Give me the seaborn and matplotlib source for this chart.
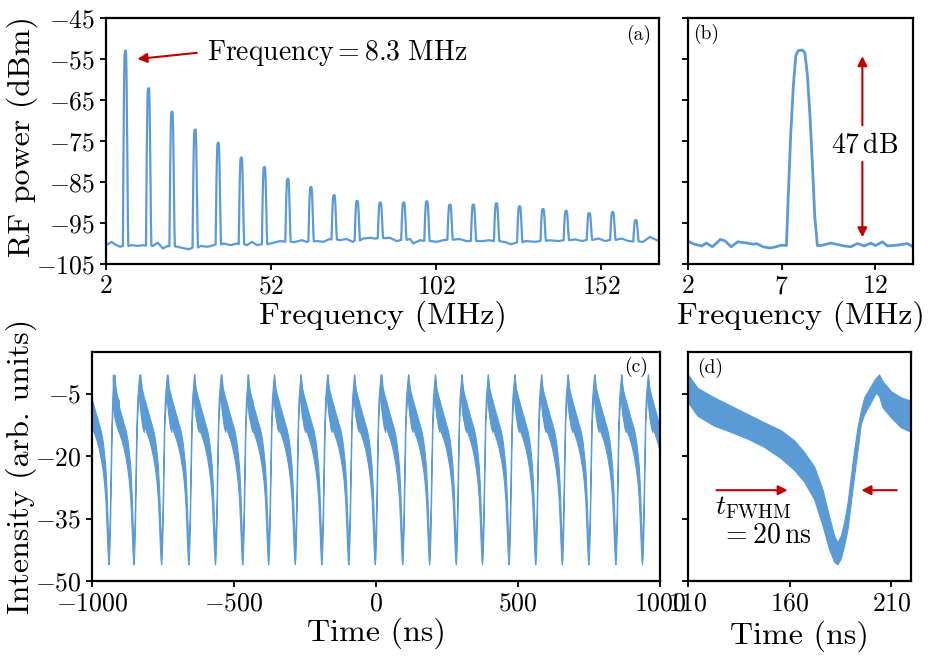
import numpy as np
import pandas as pd
import matplotlib
matplotlib.use("Agg")
import matplotlib.pyplot as plt
import seaborn as sns

# ---------------- data ----------------
# (a) RF spectrum: harmonic peak centres (MHz) and peak tops (dBm)
a_peak_freq = [7.9, 14.9, 22.0, 29.0, 36.0, 43.0, 50.0, 57.1, 64.1, 71.1, 78.1, 85.1,
               92.2, 99.2, 106.2, 113.3, 120.3, 127.3, 134.4, 141.4, 148.4, 155.5, 162.5]
a_peak_db = [-52.9, -62.1, -67.8, -72.2, -75.4, -79.0, -81.3, -84.2, -86.2, -88.2, -89.6, -90.0,
             -90.0, -89.7, -90.5, -90.5, -90.2, -90.9, -91.6, -92.0, -92.6, -92.3, -94.3]
# (a) noise floor between the peaks
a_base_freq = [2.0, 3.7, 4.7, 6.2, 9.7, 11.7, 13.2, 16.2, 17.7, 19.2, 20.7, 23.7, 25.7, 27.2,
               30.7, 32.7, 34.7, 37.7, 39.7, 41.7, 44.7, 46.2, 47.7, 51.8, 54.8, 58.8, 61.3,
               62.8, 65.8, 67.8, 69.8, 72.8, 74.8, 76.8, 79.8, 82.3, 83.3, 88.0, 90.0, 94.1,
               95.1, 97.1, 102.1, 104.1, 109.1, 111.1, 116.1, 118.1, 123.1, 124.6, 129.1,
               132.1, 136.1, 139.1, 144.1, 146.2, 151.2, 153.2, 158.2, 160.2, 164.7, 166.7, 169.5]
a_base_db = [-100.4, -99.6, -100.2, -100.8, -100.4, -100.6, -100.4, -100.6, -99.8, -101.2, -100.6,
             -100.8, -101.2, -101.4, -100.6, -100.8, -100.4, -100.0, -100.4, -100.0, -100.4, -99.6,
             -100.4, -100.0, -99.4, -99.7, -99.2, -99.6, -99.4, -99.6, -98.9, -99.2, -98.9, -99.6,
             -98.8, -98.6, -98.8, -98.6, -99.4, -98.9, -100.0, -99.2, -99.6, -99.2, -98.9, -99.4,
             -99.4, -99.2, -99.7, -100.2, -99.4, -99.6, -99.2, -99.4, -99.0, -99.4, -98.8, -99.4,
             -98.8, -99.4, -99.6, -98.4, -99.4]
# peak profile (offset from centre, MHz; fraction of peak height)
peak_offset = [-0.80, -0.71, -0.57, -0.43, -0.30, -0.18, 0.05, 0.18, 0.32, 0.46, 0.59, 0.71, 0.85]
peak_frac = [0.0, 0.235, 0.57, 0.82, 0.97, 0.994, 1.0, 0.987, 0.87, 0.65, 0.40, 0.15, 0.0]

# (b) zoom on the fundamental
b_freq = [2.0, 2.35, 2.73, 2.98, 3.3, 3.73, 3.98, 4.3, 4.65, 5.15, 5.5, 5.65, 6.0, 6.37, 6.7,
          6.98, 7.25, 7.34, 7.48, 7.62, 7.75, 7.87, 8.10, 8.23, 8.37, 8.51, 8.64, 8.76, 8.90,
          9.08, 9.62, 10.33, 10.68, 11.04, 11.4, 11.75, 12.0, 12.37, 12.64, 13.17, 13.7, 14.0]
b_db = [-99.5, -100.2, -100.6, -99.9, -100.8, -99.0, -99.4, -100.8, -99.6, -99.9, -100.2, -100.0,
        -100.8, -101.1, -100.8, -100.4, -100.5, -89.3, -73.3, -61.4, -54.2, -53.0, -52.8, -53.4,
        -59.0, -69.3, -81.3, -93.3, -100.5, -100.5, -99.9, -100.6, -100.8, -100.0, -100.6, -99.9,
        -100.5, -99.6, -100.6, -100.4, -100.0, -100.8]

# (d) one pulse: time (ns) with upper / lower edge of the noisy trace
d_time = [110, 114.6, 122.8, 131, 139.2, 147.4, 155.6, 162.1, 167, 172, 176.1, 179.3, 181.8,
          183.4, 185.1, 186.7, 188.4, 190, 191.6, 193.3, 194.9, 196.6, 199.8, 202.3, 203.9,
          205.6, 209.7, 214.6, 219.6]
d_upper = [-0.4, -3.6, -5.9, -7.9, -9.9, -11.9, -13.8, -16.2, -19.0, -22.5, -28.0, -34.4, -39.1,
           -40.7, -39.1, -35.9, -31.2, -24.9, -18.6, -13.1, -9.1, -5.9, -3.2, -1.2, -0.4,
           -2.0, -4.4, -5.9, -6.7]
d_lower = [-7.1, -10.3, -12.7, -14.2, -15.8, -17.8, -20.5, -23.3, -26.1, -30.4, -36.7, -42.3,
           -45.4, -46.0, -44.6, -41.5, -37.5, -31.2, -24.9, -18.6, -12.3, -9.9, -7.1, -4.8,
           -5.6, -8.3, -10.7, -13.1, -14.2]
d_trough = 183.4

# (c) pulse train: times of the intensity dips (ns); the last one lies just off the axis
c_trough = [-941.5, -853.6, -756.4, -660.4, -566.7, -470.7, -379.4, -285.7, -192.0, -97.2, -4.0,
            92.5, 187.4, 281.0, 373.5, 467.0, 561.0, 654.6, 748.0, 843.0, 936.8, 1031.0]

a_xticks = [2, 52, 102, 152]
a_yticks = [-45, -55, -65, -75, -85, -95, -105]
b_xticks = [2, 7, 12]
c_xticks = [-1000, -500, 0, 500, 1000]
c_yticks = [-5, -20, -35, -50]
d_xticks = [110, 160, 210]

# ---------------- style ----------------
BLUE = "#5b9bd5"
RED = "#c00000"
sns.set_style("ticks")
plt.rcParams.update({
    "font.family": "serif",
    "font.serif": ["cmr10"],
    "mathtext.fontset": "cm",
    "axes.formatter.use_mathtext": True,
    "axes.linewidth": 1.6,
    "axes.edgecolor": "black",
    "axes.labelcolor": "black",
    "text.color": "black",
    "xtick.color": "black",
    "ytick.color": "black",
    "xtick.direction": "out",
    "ytick.direction": "out",
    "xtick.major.size": 4,
    "ytick.major.size": 4,
    "xtick.major.width": 1.3,
    "ytick.major.width": 1.3,
    "xtick.labelsize": 18.5,
    "ytick.labelsize": 18.5,
    "axes.labelsize": 23,
})

fig = plt.figure(figsize=(9.3, 6.59), dpi=100)
axA = fig.add_axes([0.114, 0.5994, 0.5946, 0.3733])
axB = fig.add_axes([0.7398, 0.5994, 0.2419, 0.3733])
axC = fig.add_axes([0.0989, 0.1184, 0.6108, 0.3475])
axD = fig.add_axes([0.7398, 0.1184, 0.2398, 0.3475])

# ---- (a) ----
freqs, dbs = list(a_base_freq), list(a_base_db)
for c, top in zip(a_peak_freq, a_peak_db):
    base = np.interp(c, a_base_freq, a_base_db)
    for off, fr in zip(peak_offset, peak_frac):
        freqs.append(c + off)
        dbs.append(base + fr * (top - base))
dfA = pd.DataFrame({"freq": freqs, "db": dbs}).sort_values("freq")
sns.lineplot(data=dfA, x="freq", y="db", ax=axA, color=BLUE, lw=1.6, estimator=None, sort=False)
axA.set_xlim(2, 169.5)
axA.set_ylim(-105, -45)
axA.set_xticks(a_xticks)
axA.set_yticks(a_yticks)
axA.set_xlabel("Frequency (MHz)", labelpad=2)
axA.set_ylabel("RF power (dBm)")
axA.yaxis.set_label_coords(-0.123, 0.52)
axA.annotate("", xy=(11.5, -55.0), xytext=(29.5, -53.5),
             arrowprops=dict(arrowstyle="-|>", color=RED, lw=1.5, mutation_scale=14,
                             shrinkA=0, shrinkB=0))
axA.text(32.5, -55.2, r"$\mathrm{Frequency}=8.3\ \mathrm{MHz}$", fontsize=20, va="baseline")
axA.text(0.985, 0.93, "(a)", transform=axA.transAxes, ha="right", va="center", fontsize=14)

# ---- (b) ----
dfB = pd.DataFrame({"freq": b_freq, "db": b_db})
sns.lineplot(data=dfB, x="freq", y="db", ax=axB, color=BLUE, lw=2, estimator=None, sort=False)
axB.set_xlim(2, 14)
axB.set_ylim(-105, -45)
axB.set_xticks(b_xticks)
axB.set_yticks(a_yticks)
axB.set_yticklabels([])
axB.set_xlabel("Frequency (MHz)", labelpad=2)
axB.set_ylabel("")
axB.annotate("", xy=(11.3, -54.3), xytext=(11.3, -71.2),
             arrowprops=dict(arrowstyle="-|>", color=RED, lw=1.5, mutation_scale=14,
                             shrinkA=0, shrinkB=0))
axB.annotate("", xy=(11.3, -98.5), xytext=(11.3, -80.1),
             arrowprops=dict(arrowstyle="-|>", color=RED, lw=1.5, mutation_scale=14,
                             shrinkA=0, shrinkB=0))
axB.text(11.45, -77.7, r"$47\,\mathrm{dB}$", fontsize=20, ha="center", va="baseline")
axB.text(0.022, 0.935, "(b)", transform=axB.transAxes, ha="left", va="center", fontsize=14)

# ---- (c) ----
dt = np.array(d_time) - d_trough
for tk in c_trough:
    axC.fill_between(tk + dt, d_upper, d_lower, color=BLUE, lw=0.8, edgecolor=BLUE)
axC.set_xlim(-1000, 1000)
axC.set_ylim(-50, 5)
axC.set_xticks(c_xticks)
axC.set_yticks(c_yticks)
axC.set_xlabel("Time (ns)", labelpad=2)
axC.set_ylabel("Intensity (arb. units)")
axC.yaxis.set_label_coords(-0.096, 0.5)
axC.text(0.979, 0.936, "(c)", transform=axC.transAxes, ha="right", va="center", fontsize=14)

# ---- (d) ----
axD.fill_between(d_time, d_upper, d_lower, color=BLUE, lw=0.8, edgecolor=BLUE)
axD.set_xlim(110, 219.6)
axD.set_ylim(-50, 5)
axD.set_xticks(d_xticks)
axD.set_yticks(c_yticks)
axD.set_yticklabels([])
axD.set_xlabel("Time (ns)", labelpad=4)
axD.annotate("", xy=(159.0, -28.2), xytext=(124.0, -28.2),
             arrowprops=dict(arrowstyle="-|>", color=RED, lw=1.5, mutation_scale=14,
                             shrinkA=0, shrinkB=0))
axD.annotate("", xy=(195.2, -28.2), xytext=(212.6, -28.2),
             arrowprops=dict(arrowstyle="-|>", color=RED, lw=1.5, mutation_scale=14,
                             shrinkA=0, shrinkB=0))
axD.text(123.5, -34.0, r"$t_{\mathrm{FWHM}}$", fontsize=20, va="baseline")
axD.text(126.0, -40.7, r"$=20\,\mathrm{ns}$", fontsize=20, va="baseline")
axD.text(0.04, 0.931, "(d)", transform=axD.transAxes, ha="left", va="center", fontsize=14)

for ax in (axA, axB, axC, axD):
    for s in ax.spines.values():
        s.set_visible(True)
        s.set_color("black")

fig.savefig("out.png", dpi=100)
